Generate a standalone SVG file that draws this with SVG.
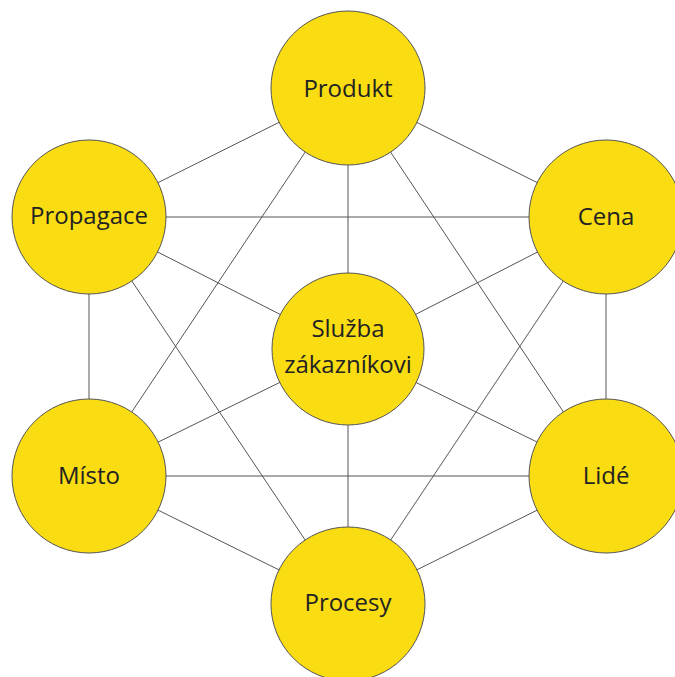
<svg xmlns="http://www.w3.org/2000/svg" width="675" height="677" viewBox="0 0 675 677">
<style>
.c{fill:#F9DC12;stroke:#555;stroke-width:1}
.e line{stroke:#555;stroke-width:1}
text{font-family:"Open Sans","Noto Sans","Liberation Sans",sans-serif;font-size:24px;fill:#222;text-anchor:middle}
</style>
<rect width="675" height="677" fill="#fff"/>
<g id="connectors" class="e">
<line x1="348" y1="88" x2="89" y2="217"/>
<line x1="348" y1="88" x2="606" y2="217"/>
<line x1="348" y1="88" x2="348" y2="349"/>
<line x1="348" y1="88" x2="89" y2="476"/>
<line x1="348" y1="88" x2="606" y2="476"/>
<line x1="89" y1="217" x2="606" y2="217"/>
<line x1="89" y1="217" x2="348" y2="349"/>
<line x1="89" y1="217" x2="89" y2="476"/>
<line x1="89" y1="217" x2="348" y2="604"/>
<line x1="606" y1="217" x2="348" y2="349"/>
<line x1="606" y1="217" x2="606" y2="476"/>
<line x1="606" y1="217" x2="348" y2="604"/>
<line x1="348" y1="349" x2="89" y2="476"/>
<line x1="348" y1="349" x2="606" y2="476"/>
<line x1="348" y1="349" x2="348" y2="604"/>
<line x1="89" y1="476" x2="606" y2="476"/>
<line x1="89" y1="476" x2="348" y2="604"/>
<line x1="606" y1="476" x2="348" y2="604"/>
</g>
<g id="produkt"><circle class="c" cx="348" cy="88" r="77"/><text x="348" y="97">Produkt</text></g>
<g id="propagace"><circle class="c" cx="89" cy="217" r="77"/><text x="89" y="224">Propagace</text></g>
<g id="cena"><circle class="c" cx="606" cy="217" r="77"/><text x="606" y="225">Cena</text></g>
<g id="sluzba"><circle class="c" cx="348" cy="349" r="76"/><text x="348" y="337">Služba</text><text x="348" y="373">zákazníkovi</text></g>
<g id="misto"><circle class="c" cx="89" cy="476" r="77"/><text x="89" y="484">Místo</text></g>
<g id="lide"><circle class="c" cx="606" cy="476" r="77"/><text x="606" y="484">Lidé</text></g>
<g id="procesy"><circle class="c" cx="348" cy="604" r="77"/><text x="348" y="611">Procesy</text></g>
</svg>
